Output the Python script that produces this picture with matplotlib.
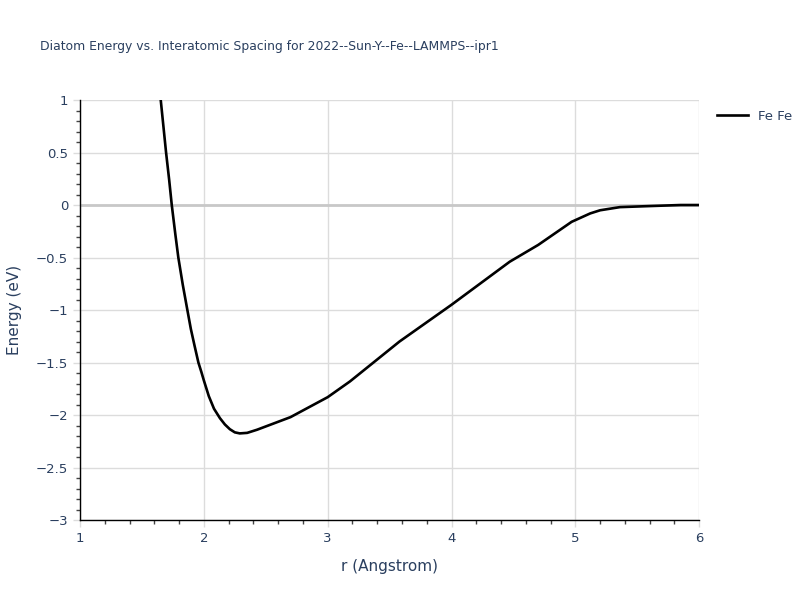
import matplotlib.pyplot as plt
from matplotlib.ticker import MultipleLocator

r = [1.63, 1.652, 1.695, 1.72, 1.741, 1.77, 1.794, 1.83, 1.867, 1.895, 1.925,
     1.956, 1.98, 2.0, 2.04, 2.082, 2.13, 2.17, 2.21, 2.25, 2.29, 2.35, 2.43,
     2.70, 3.0, 3.18, 3.58, 4.0, 4.47, 4.70, 4.97, 5.12, 5.2, 5.36, 5.6,
     5.85, 6.0]
energy = [1.26, 1.0, 0.5, 0.24, 0.0, -0.28, -0.5, -0.76, -1.0, -1.18, -1.34,
          -1.5, -1.59, -1.67, -1.82, -1.94, -2.03, -2.09, -2.135, -2.165,
          -2.175, -2.17, -2.14, -2.02, -1.83, -1.68, -1.30, -0.95, -0.54,
          -0.38, -0.16, -0.08, -0.05, -0.02, -0.01, 0.0, 0.0]

text_color = "#2a3f5f"
grid_color = "#dcdcdc"

fig = plt.figure(figsize=(8, 6), dpi=100)
ax = fig.add_axes([0.1, 0.1333, 0.774, 0.7])

ax.plot(r, energy, color="black", linewidth=1.9, label="Fe Fe", zorder=3)

ax.set_xlim(1, 6)
ax.set_ylim(-3, 1)
ax.xaxis.set_major_locator(MultipleLocator(1))
ax.xaxis.set_minor_locator(MultipleLocator(0.2))
ax.yaxis.set_major_locator(MultipleLocator(0.5))
ax.yaxis.set_minor_locator(MultipleLocator(0.1))

ax.grid(which="major", color=grid_color, linewidth=1)
ax.axhline(0, color="#c8c8c8", linewidth=2, zorder=1)
ax.set_axisbelow(True)

for side in ["top", "right"]:
    ax.spines[side].set_visible(False)
for side in ["left", "bottom"]:
    ax.spines[side].set_color("black")
    ax.spines[side].set_linewidth(1)

ax.tick_params(which="major", direction="out", length=5, width=1,
               color=grid_color, labelcolor=text_color, labelsize=9.5)
ax.tick_params(which="minor", direction="out", length=3, width=1, color="#444444")

ax.set_yticklabels([f"{v:g}".replace("-", "\u2212") for v in ax.get_yticks()])

ax.set_xlabel("r (Angstrom)", color=text_color, fontsize=11, labelpad=10)
ax.set_ylabel("Energy (eV)", color=text_color, fontsize=11, labelpad=10)

fig.text(0.05, 0.923, "Diatom Energy vs. Interatomic Spacing for 2022--Sun-Y--Fe--LAMMPS--ipr1",
         color=text_color, fontsize=8.9, va="center")

leg = ax.legend(loc="upper left", bbox_to_anchor=(1.01, 1.005), frameon=False,
                fontsize=9.5, handlelength=2.3)
for t in leg.get_texts():
    t.set_color(text_color)

plt.savefig("out.png", dpi=100)
